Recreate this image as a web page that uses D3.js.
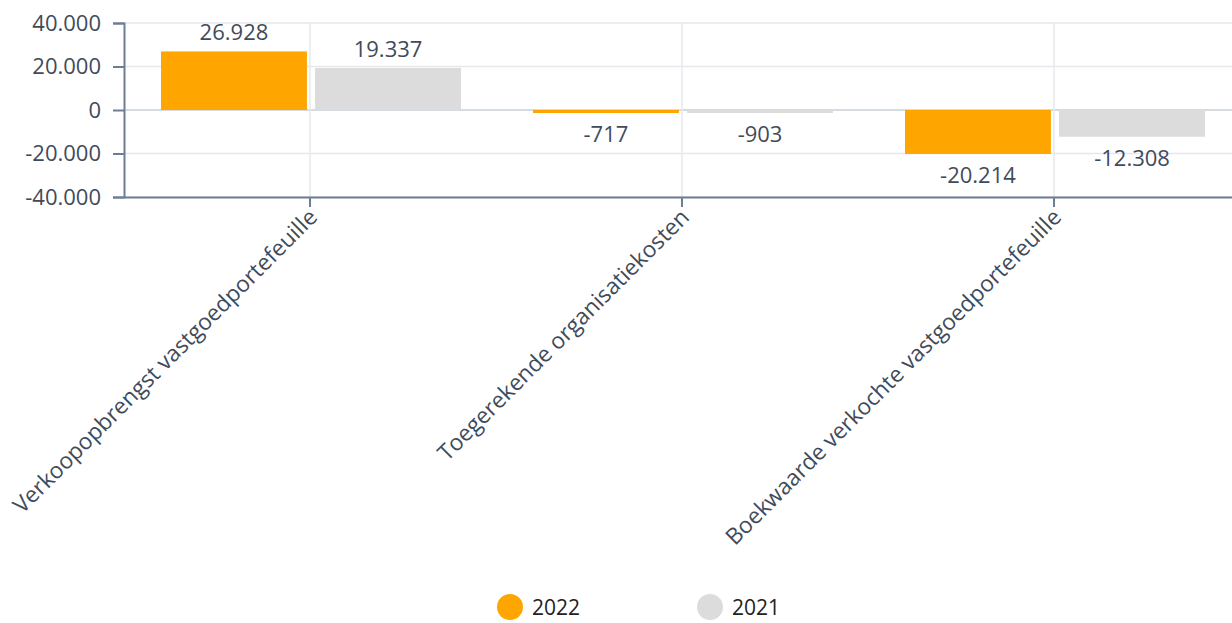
<!DOCTYPE html>
<html>
<head>
<meta charset="utf-8">
<script src="https://cdn.jsdelivr.net/npm/d3@7"></script>
<style>
  body { margin: 0; background: #fff; }
  svg { font-family: "Open Sans", sans-serif; }
</style>
</head>
<body>
<svg id="chart" width="1232" height="623"></svg>
<script>
const categories = ['Verkoopopbrengst vastgoedportefeuille', 'Toegerekende organisatiekosten', 'Boekwaarde verkochte vastgoedportefeuille'];
const seriesNames = ['2022', '2021'];
const values2022 = [26928, -717, -20214];
const values2021 = [19337, -903, -12308];
const yTicks = [-40000, -20000, 0, 20000, 40000];

const colors = { '2022': '#FFA500', '2021': '#DCDCDC' };
const axisColor = '#6E7E92';
const textColor = '#3F4B5B';

const svg = d3.select('#chart');
const margin = { left: 124, right: -8 };
const width = 1232;

const x = d3.scaleBand()
    .domain(categories)
    .range([margin.left, width - margin.right])
    .paddingInner(0)
    .paddingOuter(0);

const xInner = d3.scaleBand()
    .domain(seriesNames)
    .range([37, x.bandwidth() - 35])
    .paddingInner(0.053);

const y = d3.scaleLinear()
    .domain([-40000, 40000])
    .range([197, 23]);

// Dutch style: dot as thousands separator, plain hyphen for minus
const nl = d3.formatLocale({ decimal: ',', thousands: '.', grouping: [3], currency: ['€', ''], minus: '-' });
const fmt = nl.format(',');

// Grid
const grid = svg.append('g');
grid.selectAll('line.h')
    .data(yTicks)
    .join('line')
    .attr('x1', margin.left).attr('x2', width)
    .attr('y1', d => y(d)).attr('y2', d => y(d))
    .attr('stroke', d => d === 0 ? '#C9CFD8' : '#E6E8EE')
    .attr('stroke-width', 1.5);
grid.selectAll('line.v')
    .data(categories)
    .join('line')
    .attr('x1', d => x(d) + x.bandwidth() / 2).attr('x2', d => x(d) + x.bandwidth() / 2)
    .attr('y1', y(40000)).attr('y2', y(-40000))
    .attr('stroke', '#E6E8EE')
    .attr('stroke-width', 1.5);

// Bars
const rows = categories.map((c, i) => ({ cat: c, vals: [
    { s: '2022', v: values2022[i] },
    { s: '2021', v: values2021[i] }
] }));

const groups = svg.append('g').selectAll('g')
    .data(rows)
    .join('g')
    .attr('transform', d => `translate(${x(d.cat)},0)`);

groups.selectAll('rect')
    .data(d => d.vals)
    .join('rect')
    .attr('x', d => xInner(d.s))
    .attr('width', xInner.bandwidth())
    .attr('y', d => Math.min(y(d.v), y(0)))
    .attr('height', d => Math.max(Math.abs(y(d.v) - y(0)), 3))
    .attr('fill', d => colors[d.s]);

groups.selectAll('text')
    .data(d => d.vals)
    .join('text')
    .attr('x', d => xInner(d.s) + xInner.bandwidth() / 2)
    .attr('y', d => d.v >= 0 ? y(d.v) - 11 : Math.max(y(d.v), y(0) + 3) + 29)
    .attr('text-anchor', 'middle')
    .attr('font-size', '22px')
    .attr('fill', textColor)
    .text(d => fmt(d.v));

// Y axis
const yAxis = svg.append('g')
    .attr('transform', `translate(${margin.left},0)`)
    .call(d3.axisLeft(y).tickValues(yTicks).tickSize(11).tickPadding(12).tickFormat(fmt));
yAxis.select('.domain').attr('stroke', axisColor).attr('stroke-width', 2);
yAxis.selectAll('.tick line').attr('stroke', axisColor).attr('stroke-width', 2);
yAxis.selectAll('.tick text')
    .attr('font-size', '22px')
    .attr('font-family', '"Open Sans", sans-serif')
    .attr('fill', textColor);

// X axis
const xAxis = svg.append('g')
    .attr('transform', `translate(0,${y(-40000)})`)
    .call(d3.axisBottom(x).tickSize(10).tickSizeOuter(0).tickPadding(8));
xAxis.select('.domain').attr('stroke', axisColor).attr('stroke-width', 2);
xAxis.selectAll('.tick line').attr('stroke', axisColor).attr('stroke-width', 2);
xAxis.selectAll('.tick text')
    .attr('font-size', '22.6px')
    .attr('font-family', '"Open Sans", sans-serif')
    .attr('fill', textColor)
    .attr('text-anchor', 'end')
    .attr('dy', '0.35em')
    .attr('transform', 'translate(3,16) rotate(-45)')
    .attr('y', 0).attr('x', 0);

// Legend
const legend = svg.append('g');
seriesNames.forEach((s, i) => {
    const lx = 510 + i * 200;
    legend.append('circle')
        .attr('cx', lx).attr('cy', 607).attr('r', 13)
        .attr('fill', colors[s]);
    legend.append('text')
        .attr('x', lx + 22).attr('y', 615)
        .attr('font-size', '21px')
        .attr('fill', '#222')
        .text(s);
});
</script>
</body>
</html>
